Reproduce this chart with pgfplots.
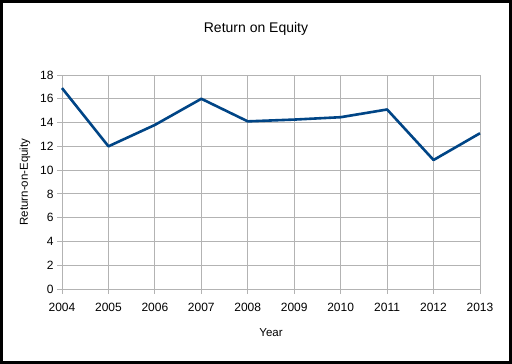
\documentclass[border=0pt]{standalone}
\usepackage{pgfplots}
\pgfplotsset{compat=1.18}
\usepackage{fontspec}
\setmainfont{Liberation Sans}
\definecolor{linec}{HTML}{004586}
\definecolor{gridc}{HTML}{B3B3B3}
\begin{document}
\begin{tikzpicture}[x=1pt,y=1pt]
\useasboundingbox (0,0) rectangle (512,364);
\fill[white] (0,0) rectangle (512,364);
\draw[black,line width=3pt] (1.5,1.5) rectangle (510.5,362.5);
\node[font=\fontsize{14}{16}\selectfont] at (256,335) {Return on Equity};
\begin{axis}[
  at={(62pt,75pt)}, anchor=south west,
  scale only axis, width=418pt, height=214pt,
  xmin=2004, xmax=2013, ymin=0, ymax=18,
  xtick={2004,...,2013}, ytick={0,2,...,18},
  x tick label style={/pgf/number format/1000 sep={}, yshift=-6pt},
  /pgf/number format/assume math mode=true,
  tick label style={font=\fontsize{12}{14}\selectfont},
  label style={font=\fontsize{11.5}{13}\selectfont},
  grid=major,
  grid style={gridc, line width=0.8pt},
  axis line style={gridc, line width=0.8pt},
  tick style={gridc, line width=0.8pt},
  tick align=outside, major tick length=5pt,
  xtick pos=bottom, ytick pos=left,
  xlabel={Year}, ylabel={Return-on-Equity},
  xlabel style={at={(axis description cs:0.5,-0.206)}, anchor=center},
  ylabel style={at={(axis description cs:-0.0885,0.5)}, anchor=center},
  clip=false,
]
\addplot[linec, line width=2.6pt, line join=round] coordinates {
(2004,16.9) (2005,12.0) (2006,13.8) (2007,16.0) (2008,14.1)
(2009,14.25) (2010,14.45) (2011,15.1) (2012,10.85) (2013,13.1)
};
\end{axis}
\end{tikzpicture}
\end{document}
